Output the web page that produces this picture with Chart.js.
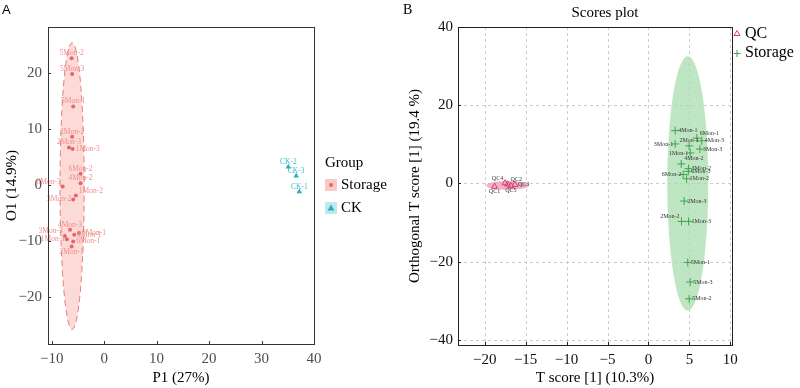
<!DOCTYPE html>
<html>
<head>
<meta charset="utf-8">
<script src="https://cdn.jsdelivr.net/npm/chart.js@4.4.0/dist/chart.umd.min.js"></script>
<style>
body{margin:0;background:#fff;width:800px;height:388px;overflow:hidden;position:relative}
.box{position:absolute;top:0;width:400px;height:388px}
</style>
</head>
<body>
<div class="box" style="left:0"><canvas id="chartA" width="400" height="388"></canvas></div>
<div class="box" style="left:400px"><canvas id="chartB" width="400" height="388"></canvas></div>
<script>
//------------------------------- panel A data (OPLS-DA, Storage vs CK)

const a_storage_names = ['5Mon-2','5Mon-3','5Mon-1','2Mon-2','2Mon-3','1Mon-3','6Mon-2','4Mon-2','6Mon-3',
                         '1Mon-2','3Mon-2','4Mon-3','3Mon-3','3Mon-1','1Mon-1','4Mon-1','6Mon-1','2Mon-1'];
const a_storage_x = [-6.2,-6.1,-5.9,-6.1,-6.7,-6.0,-4.5,-4.5,-7.9,-5.4,-5.9,-6.5,-7.5,-4.8,-7.1,-5.7,-5.9,-6.2];
const a_storage_y = [22.6,19.8,14.0,8.6,6.7,6.4,2.0,0.3,-0.3,-1.9,-2.6,-8.0,-9.1,-8.6,-9.7,-8.9,-10.1,-11.0];

const a_ck_names = ['CK-2','CK-3','CK-1'];
const a_ck_x = [35.1, 36.6, 37.2];
const a_ck_y = [3.2, 1.6, -1.2];

// confidence ellipse of Storage group: centre x, centre y, half width, half height
const a_ellipse = [-6.1, -0.2, 2.3, 25.6];

const a_x_range = [-10.7, 40];
const a_y_range = [-28.4, 28.2];

//------------------------------- panel B data (Scores plot, QC vs Storage)

const b_qc_names = ['QC1','QC4','QC2','QC5','QC3'];
const b_qc_x = [-18.8,-17.5,-17.2,-16.8,-16.3];
const b_qc_y = [-0.8, 0.1, -0.2, -0.6, -0.3];

const b_storage_names = ['4Mon-1','6Mon-1','4Mon-3','3Mon-1','2Mon-1','3Mon-3','1Mon-1','4Mon-2','3Mon-2',
                         '6Mon-3','6Mon-2','1Mon-2','2Mon-3','2Mon-2','1Mon-3','5Mon-1','5Mon-3','5Mon-2'];
const b_storage_x = [3.26,5.9,6.5,3.26,4.97,6.28,5.1,4.0,4.9,4.85,4.24,4.65,4.36,4.04,4.9,4.8,5.1,4.97];
const b_storage_y = [13.5,11.6,10.9,10.1,9.6,8.8,7.8,5.0,3.8,3.1,2.3,1.2,-4.5,-9.7,-9.7,-20.2,-25.2,-29.5];

const b_qc_ellipse = [-17.2, -0.5, 2.6, 1.1];
const b_storage_ellipse = [4.8, 0.0, 2.5, 32.5];

const b_x_range = [-23.26, 10.2];
const b_y_range = [-41.3, 40];

//------------------------------- label placement (t/b/l/r and corners)

const a_storage_place = ['t','t','t','t','t','r','t','t','tl','tr','l','t','tl','r','l','r','r','b'];
const a_ck_place = ['t','t','t'];
const b_qc_place = ['b','tl','tr','b','r'];
const b_storage_place = ['r','tr','r','l','t','r','l','tr','r','r','l','r','r','tl','r','r','r','r'];

//------------------------------------------------------------------

const SERIF = "'Liberation Serif', 'DejaVu Serif', serif";
Chart.defaults.font.family = SERIF;
Chart.defaults.animation = false;

function minus(v){ return String(v).replace('-', '\u2212'); }

function to_points(xs, ys){
    let out = [];
    for (let i = 0; i < xs.length; i++) out.push({x: xs[i], y: ys[i]});
    return out;
}

function draw_ellipse(chart, e, fill, stroke, dash){
    const {ctx, scales: {x, y}} = chart;
    const cx = x.getPixelForValue(e[0]), cy = y.getPixelForValue(e[1]);
    const rx = Math.abs(x.getPixelForValue(e[0] + e[2]) - cx);
    const ry = Math.abs(y.getPixelForValue(e[1] + e[3]) - cy);
    ctx.save();
    ctx.beginPath();
    ctx.ellipse(cx, cy, rx, ry, 0, 0, Math.PI * 2);
    ctx.fillStyle = fill;
    ctx.fill();
    if (stroke){
        ctx.setLineDash(dash || []);
        ctx.strokeStyle = stroke;
        ctx.lineWidth = 1;
        ctx.stroke();
    }
    ctx.restore();
}

function draw_grid(chart){
    const {ctx, chartArea: ca, scales: {x, y}} = chart;
    ctx.save();
    ctx.strokeStyle = '#cccccc';
    ctx.lineWidth = 1;
    ctx.setLineDash([3, 3]);
    x.ticks.forEach(t => {
        const px = Math.round(x.getPixelForValue(t.value)) + 0.5;
        ctx.beginPath(); ctx.moveTo(px, ca.top); ctx.lineTo(px, ca.bottom); ctx.stroke();
    });
    y.ticks.forEach(t => {
        const py = Math.round(y.getPixelForValue(t.value)) + 0.5;
        ctx.beginPath(); ctx.moveTo(ca.left, py); ctx.lineTo(ca.right, py); ctx.stroke();
    });
    ctx.restore();
}

function draw_frame(chart, color){
    const {ctx, chartArea: ca, scales: {x, y}} = chart;
    ctx.save();
    ctx.strokeStyle = color;
    ctx.lineWidth = 1;
    ctx.strokeRect(Math.round(ca.left) + 0.5, Math.round(ca.top) + 0.5,
                   Math.round(ca.right - ca.left), Math.round(ca.bottom - ca.top));
    // small inner ticks
    x.ticks.forEach(t => {
        const px = Math.round(x.getPixelForValue(t.value)) + 0.5;
        ctx.beginPath(); ctx.moveTo(px, ca.bottom); ctx.lineTo(px, ca.bottom - 3); ctx.stroke();
    });
    y.ticks.forEach(t => {
        const py = Math.round(y.getPixelForValue(t.value)) + 0.5;
        ctx.beginPath(); ctx.moveTo(ca.left, py); ctx.lineTo(ca.left + 3, py); ctx.stroke();
    });
    ctx.restore();
}

function draw_labels(chart, size){
    const ctx = chart.ctx;
    ctx.save();
    ctx.font = size + 'px ' + SERIF;
    chart.data.datasets.forEach((ds, i) => {
        const meta = chart.getDatasetMeta(i);
        ctx.fillStyle = ds.textColor;
        meta.data.forEach((pt, j) => {
            const p = ds.place[j];
            let tx = pt.x, ty = pt.y;
            ctx.textAlign = 'center';
            ctx.textBaseline = 'middle';
            if (p.includes('t')) ty -= 5;
            if (p.includes('b')) ty += 5;
            if (p === 'r' || p === 'tr'){ ctx.textAlign = 'left'; tx += 3; }
            if (p === 'l' || p === 'tl'){ ctx.textAlign = 'right'; tx -= 2; }
            ctx.fillText(ds.names[j], tx, ty);
        });
    });
    ctx.restore();
}

//------------------------------------------------------------------ chart A

const decorA = {
    id: 'decorA',
    beforeDatasetsDraw(chart){
        draw_ellipse(chart, a_ellipse, 'rgba(251,205,203,0.75)', '#e47c79', [6, 4]);
    },
    afterDatasetsDraw(chart){
        draw_labels(chart, 7.5);
        draw_frame(chart, '#333333');
        const ctx = chart.ctx;
        ctx.save();
        ctx.fillStyle = '#000';
        ctx.font = "13px 'Liberation Sans', sans-serif";
        ctx.textBaseline = 'middle';
        ctx.fillText('A', 2, 10);
        // legend
        ctx.font = '15px ' + SERIF;
        ctx.fillText('Group', 325, 163);
        ctx.fillStyle = '#f8c9c6';
        ctx.fillRect(325, 179, 12, 12);
        ctx.fillStyle = '#e36767';
        ctx.beginPath(); ctx.arc(331, 185, 2, 0, Math.PI * 2); ctx.fill();
        ctx.fillStyle = '#bfe9ee';
        ctx.fillRect(325, 202, 12, 12);
        ctx.fillStyle = '#21b3c3';
        ctx.beginPath(); ctx.moveTo(331, 204.5); ctx.lineTo(334.5, 210.5); ctx.lineTo(327.5, 210.5); ctx.closePath(); ctx.fill();
        ctx.fillStyle = '#000';
        ctx.fillText('Storage', 341, 185);
        ctx.fillText('CK', 341, 208);
        ctx.restore();
    }
};

const chartA = new Chart(document.getElementById('chartA'), {
    type: 'scatter',
    data: {
        datasets: [{
            label: 'Storage',
            data: to_points(a_storage_x, a_storage_y),
            names: a_storage_names, place: a_storage_place, textColor: '#ef8e8a',
            pointStyle: 'circle', pointRadius: 2, backgroundColor: '#e36767', borderWidth: 0
        }, {
            label: 'CK',
            data: to_points(a_ck_x, a_ck_y),
            names: a_ck_names, place: a_ck_place, textColor: '#3bb9c7',
            pointStyle: 'triangle', pointRadius: 3.2, backgroundColor: '#21b3c3', borderWidth: 0
        }]
    },
    options: {
        responsive: false,
        events: [],
        layout: { padding: { top: 27, right: 86, left: 0, bottom: 0 } },
        plugins: { legend: { display: false }, tooltip: { enabled: false } },
        scales: {
            x: {
                min: a_x_range[0], max: a_x_range[1],
                afterFit: s => { s.height = 44; },
                grid: { display: false, drawTicks: false },
                border: { display: false },
                ticks: { stepSize: 10, includeBounds: false, padding: 6, color: '#4d4d4d',
                         font: { size: 15 }, callback: v => minus(v) },
                title: { display: true, text: 'P1 (27%)', color: '#000', font: { size: 15 },
                         padding: { top: 0, bottom: 1 } }
            },
            y: {
                min: a_y_range[0], max: a_y_range[1],
                afterFit: s => { s.width = 48; },
                grid: { display: false, drawTicks: false },
                border: { display: false },
                ticks: { stepSize: 10, includeBounds: false, padding: 6, color: '#4d4d4d',
                         font: { size: 15 }, callback: v => minus(v) },
                title: { display: true, text: 'O1 (14.9%)', color: '#000', font: { size: 15 },
                         padding: { top: 3, bottom: 0 } }
            }
        }
    },
    plugins: [decorA]
});

//------------------------------------------------------------------ chart B

const decorB = {
    id: 'decorB',
    beforeDatasetsDraw(chart){
        draw_grid(chart);
        draw_ellipse(chart, b_storage_ellipse, 'rgba(170,222,175,0.75)');
        draw_ellipse(chart, b_qc_ellipse, 'rgba(240,150,180,0.75)');
    },
    afterDatasetsDraw(chart){
        draw_labels(chart, 6);
        draw_frame(chart, '#222222');
        const ctx = chart.ctx;
        ctx.save();
        ctx.fillStyle = '#000';
        ctx.textBaseline = 'middle';
        ctx.font = '14px ' + SERIF;
        ctx.fillText('B', 3, 10);
        ctx.font = '15px ' + SERIF;
        ctx.textAlign = 'center';
        ctx.fillText('Scores plot', 205, 13);
        // legend
        ctx.textAlign = 'left';
        ctx.font = '16px ' + SERIF;
        ctx.fillText('QC', 345, 34);
        ctx.fillText('Storage', 345, 53);
        ctx.strokeStyle = '#d9406f';
        ctx.lineWidth = 1;
        ctx.beginPath(); ctx.moveTo(337, 30.5); ctx.lineTo(340, 35.5); ctx.lineTo(334, 35.5); ctx.closePath(); ctx.stroke();
        ctx.strokeStyle = '#3fa34d';
        ctx.beginPath(); ctx.moveTo(333.5, 53.5); ctx.lineTo(340.5, 53.5); ctx.moveTo(337, 50); ctx.lineTo(337, 57); ctx.stroke();
        ctx.restore();
    }
};

const chartB = new Chart(document.getElementById('chartB'), {
    type: 'scatter',
    data: {
        datasets: [{
            label: 'QC',
            data: to_points(b_qc_x, b_qc_y),
            names: b_qc_names, place: b_qc_place, textColor: '#333',
            pointStyle: 'triangle', pointRadius: 3.5, backgroundColor: 'rgba(0,0,0,0)',
            borderColor: '#d9406f', borderWidth: 1
        }, {
            label: 'Storage',
            data: to_points(b_storage_x, b_storage_y),
            names: b_storage_names, place: b_storage_place, textColor: '#333',
            pointStyle: 'cross', pointRadius: 4, borderColor: '#3fa34d', borderWidth: 1
        }]
    },
    options: {
        responsive: false,
        events: [],
        layout: { padding: { top: 27, right: 68, left: 0, bottom: 0 } },
        plugins: { legend: { display: false }, tooltip: { enabled: false } },
        scales: {
            x: {
                min: b_x_range[0], max: b_x_range[1],
                afterFit: s => { s.height = 43; },
                grid: { display: false, drawTicks: false },
                border: { display: false },
                ticks: { stepSize: 5, includeBounds: false, padding: 6, color: '#111',
                         font: { size: 15 }, callback: v => minus(v) },
                title: { display: true, text: 'T score [1] (10.3%)', color: '#000', font: { size: 15 },
                         padding: { top: 0, bottom: 1 } }
            },
            y: {
                min: b_y_range[0], max: b_y_range[1],
                afterFit: s => { s.width = 58; },
                grid: { display: false, drawTicks: false },
                border: { display: false },
                ticks: { stepSize: 20, includeBounds: false, padding: 5, color: '#111',
                         font: { size: 15 }, callback: v => minus(v) },
                title: { display: true, text: 'Orthogonal T score [1] (19.4 %)', color: '#000',
                         font: { size: 15 }, padding: { top: 6, bottom: 0 } }
            }
        }
    },
    plugins: [decorB]
});
</script>
</body>
</html>
